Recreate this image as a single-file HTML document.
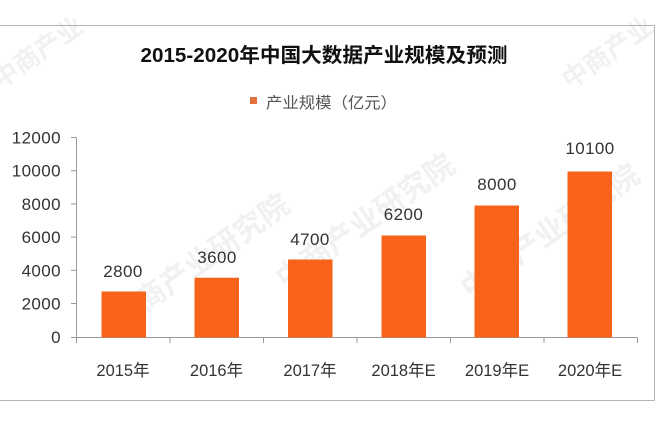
<!DOCTYPE html>
<html><head><meta charset="utf-8">
<style>
html,body{margin:0;padding:0;background:#fff;}
svg{display:block;}
</style></head>
<body>
<svg width="668" height="424" viewBox="0 0 668 424" xmlns="http://www.w3.org/2000/svg">
<rect width="668" height="424" fill="#fff"/>
<!-- watermarks -->
<g font-family="Liberation Sans, Noto Sans CJK SC, sans-serif" fill="#f1f1f1" font-weight="bold">
<text x="0" y="0" font-size="30" transform="translate(120,330) rotate(-35)">中商产业研究院</text>
<text x="0" y="0" font-size="30" transform="translate(285,290) rotate(-35)">中商产业研究院</text>
<text x="0" y="0" font-size="30" transform="translate(470,300) rotate(-35)">中商产业研究院</text>
<text x="0" y="0" font-size="26" transform="translate(0,90) rotate(-35)">中商产业</text>
<text x="0" y="0" font-size="26" transform="translate(570,90) rotate(-35)">中商产业</text>
</g>
<!-- frame -->
<line x1="0" y1="25.5" x2="654.5" y2="25.5" stroke="#b3b3b3" stroke-width="1"/>
<line x1="654.5" y1="25.5" x2="654.5" y2="400.5" stroke="#b3b3b3" stroke-width="1"/>
<line x1="0" y1="400.5" x2="654.5" y2="400.5" stroke="#b3b3b3" stroke-width="1"/>
<!-- title -->
<text x="324" y="62" text-anchor="middle" font-family="Liberation Sans, Noto Sans CJK SC, sans-serif" font-size="20" font-weight="bold" fill="#111" textLength="367" lengthAdjust="spacingAndGlyphs">2015-2020年中国大数据产业规模及预测</text>
<!-- legend -->
<rect x="250" y="97" width="7" height="7" fill="#E2703A"/>
<text x="266" y="108" font-family="Liberation Sans, Noto Sans CJK SC, sans-serif" font-size="15.5" fill="#555" textLength="131" lengthAdjust="spacingAndGlyphs">产业规模（亿元）</text>
<!-- axes -->
<g stroke="#9a9a9a" stroke-width="1" fill="none">
<line x1="76.5" y1="137.5" x2="76.5" y2="343"/>
<line x1="76" y1="337.5" x2="637.5" y2="337.5"/>
<line x1="71" y1="137.5" x2="76.5" y2="137.5"/>
<line x1="71" y1="170.7" x2="76.5" y2="170.7"/>
<line x1="71" y1="203.9" x2="76.5" y2="203.9"/>
<line x1="71" y1="237.1" x2="76.5" y2="237.1"/>
<line x1="71" y1="270.3" x2="76.5" y2="270.3"/>
<line x1="71" y1="303.5" x2="76.5" y2="303.5"/>
<line x1="71" y1="337.5" x2="76.5" y2="337.5"/>
<line x1="170" y1="337.5" x2="170" y2="343"/>
<line x1="263.5" y1="337.5" x2="263.5" y2="343"/>
<line x1="357" y1="337.5" x2="357" y2="343"/>
<line x1="450.5" y1="337.5" x2="450.5" y2="343"/>
<line x1="544" y1="337.5" x2="544" y2="343"/>
<line x1="637.5" y1="337.5" x2="637.5" y2="343"/>
</g>
<!-- y tick labels -->
<g font-family="Liberation Sans, sans-serif" font-size="17" fill="#333" text-anchor="end" letter-spacing="0.4">
<text x="61" y="143.5">12000</text>
<text x="61" y="176.7">10000</text>
<text x="61" y="209.9">8000</text>
<text x="61" y="243.1">6000</text>
<text x="61" y="276.3">4000</text>
<text x="61" y="309.5">2000</text>
<text x="61" y="343">0</text>
</g>
<!-- bars -->
<g fill="#F8631C">
<rect x="101.5" y="291.5" width="44.5" height="46"/>
<rect x="194.5" y="277.7" width="44.5" height="59.8"/>
<rect x="288" y="259.5" width="44.5" height="78"/>
<rect x="381.5" y="235.5" width="44.5" height="102"/>
<rect x="474.5" y="205.5" width="44.5" height="132"/>
<rect x="567.5" y="171.5" width="44.5" height="166"/>
</g>
<!-- value labels -->
<g font-family="Liberation Sans, sans-serif" font-size="17" fill="#333" text-anchor="middle" letter-spacing="0.4">
<text x="123" y="277">2800</text>
<text x="217" y="263">3600</text>
<text x="310" y="245">4700</text>
<text x="403.5" y="220">6200</text>
<text x="497" y="190">8000</text>
<text x="590" y="154">10100</text>
</g>
<!-- x labels -->
<g font-family="Liberation Sans, Noto Sans CJK SC, sans-serif" font-size="16.5" fill="#333" text-anchor="middle">
<text x="123" y="376">2015年</text>
<text x="216.5" y="376">2016年</text>
<text x="310" y="376">2017年</text>
<text x="403.5" y="376">2018年E</text>
<text x="497" y="376">2019年E</text>
<text x="590" y="376">2020年E</text>
</g>
</svg>
</body></html>
